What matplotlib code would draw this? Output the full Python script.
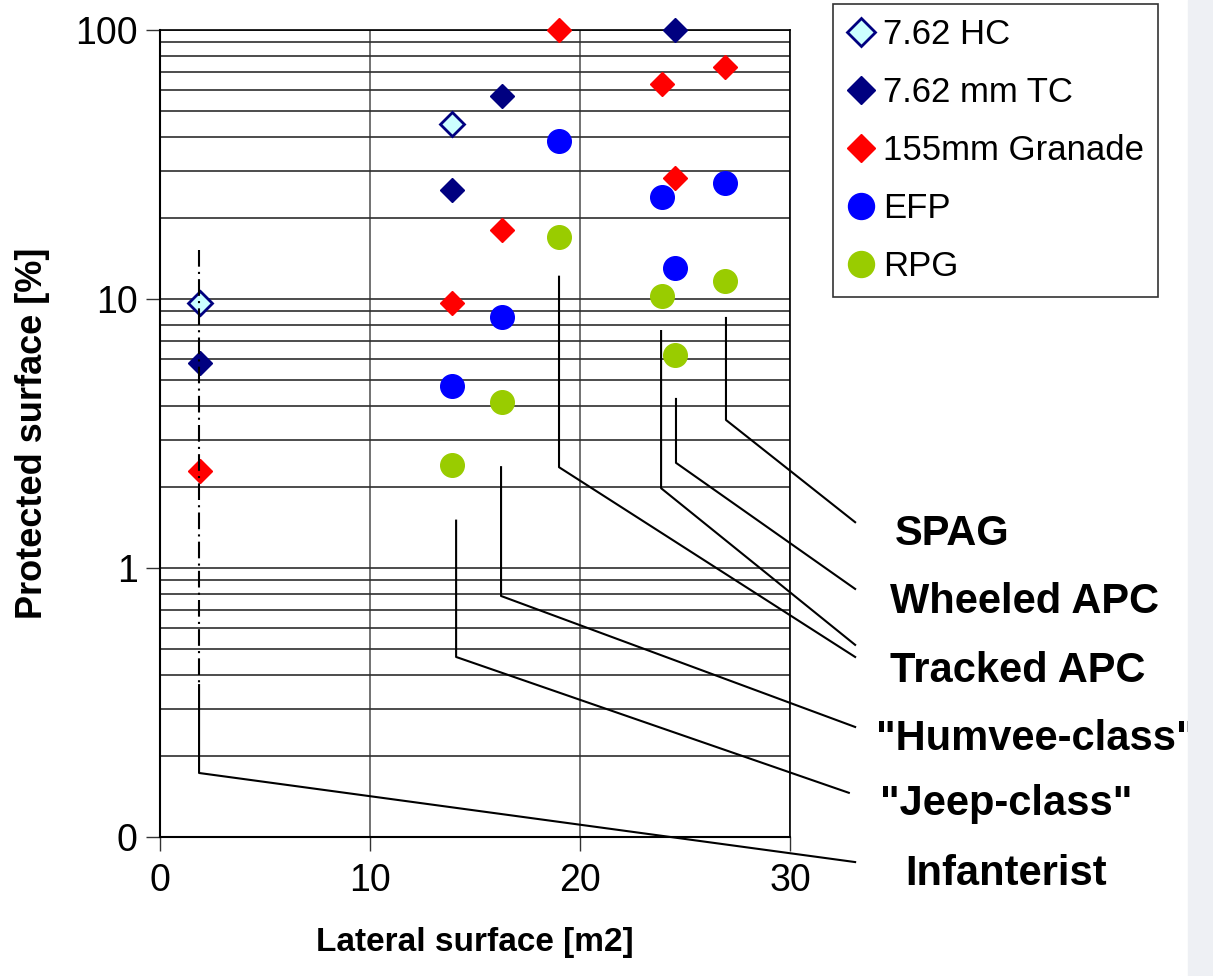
import matplotlib.pyplot as plt
from matplotlib.patches import Rectangle
from matplotlib.ticker import LogLocator, NullFormatter

# lateral surface [m2] and protected surface [%] per threat
hc_x = [1.9, 13.9]
hc_y = [9.7, 44.7]
tc_x = [1.9, 13.9, 16.3, 24.5]
tc_y = [5.8, 25.4, 57.0, 100.0]
gr_x = [1.9, 13.9, 16.3, 19.0, 23.9, 24.5, 26.9]
gr_y = [2.3, 9.7, 18.1, 100.0, 63.0, 28.2, 72.8]
efp_x = [13.9, 16.3, 19.0, 23.9, 24.5, 26.9]
efp_y = [4.75, 8.6, 38.7, 23.9, 13.0, 27.0]
rpg_x = [13.9, 16.3, 19.0, 23.9, 24.5, 26.9]
rpg_y = [2.42, 4.14, 17.0, 10.3, 6.2, 11.7]

vehicles = ['SPAG', 'Wheeled APC', 'Tracked APC', '"Humvee-class"', '"Jeep-class"', 'Infanterist']

# leader lines: x of vertical, top, knee, end x, end y (data coords)
leaders = [
    (26.95, 8.5, 3.55, 33.1, 1.48),
    (24.57, 4.25, 2.46, 33.1, 0.836),
    (19.0, 12.1, 2.37, 33.1, 0.467),
    (23.86, 7.6, 1.98, 33.1, 0.518),
    (16.24, 2.37, 0.787, 33.1, 0.2565),
    (14.1, 1.5, 0.467, 32.8, 0.146),
    (1.86, 0.367, 0.173, 33.1, 0.0807),
]
# label anchors (left x, baseline y)
label_pos = [(35.0, 1.218), (34.76, 0.681), (34.76, 0.377),
             (34.1, 0.2105), (34.3, 0.1208), (35.48, 0.0664)]

plt.rcParams['font.family'] = ['Liberation Sans', 'DejaVu Sans']

fig = plt.figure(figsize=(12.13, 9.76), dpi=100)
fig.patches.append(Rectangle((1188 / 1213, 0), 25 / 1213, 1, transform=fig.transFigure,
                             color='#eef0f4', zorder=0))
ax = fig.add_axes([0.1319, 0.1424, 0.5194, 0.8269])
ax.set_yscale('log')
ax.set_xlim(0, 30)
ax.set_ylim(0.1, 100)

# grid
ax.yaxis.set_minor_locator(LogLocator(base=10, subs=range(2, 10)))
ax.yaxis.set_minor_formatter(NullFormatter())
ax.grid(True, which='both', axis='y', color='#2e2e2e', lw=1.2)
ax.grid(True, which='major', axis='x', color='#5a5a5a', lw=1.2)
ax.set_axisbelow(True)

ms_d = 12.5
ms_o = 17
ax.plot(hc_x, hc_y, 'D', ms=ms_d, mfc='#ccffff', mec='#000080', mew=2, clip_on=False, zorder=3, label='7.62 HC')
ax.plot(tc_x, tc_y, 'D', ms=ms_d, mfc='#000080', mec='#000080', clip_on=False, zorder=3, label='7.62 mm TC')
ax.plot(gr_x, gr_y, 'D', ms=ms_d, mfc='#ff0000', mec='#ff0000', clip_on=False, zorder=3, label='155mm Granade')
ax.plot(efp_x, efp_y, 'o', ms=ms_o, mfc='#0000ff', mec='#0000ff', clip_on=False, zorder=3, label='EFP')
ax.plot(rpg_x, rpg_y, 'o', ms=ms_o, mfc='#99cc00', mec='#99cc00', clip_on=False, zorder=3, label='RPG')

# leader lines to vehicle names
ax.plot([1.86, 1.86], [15.2, 0.367], color='black', lw=1.5,
        linestyle=(0, (8, 2.5, 1, 2.5)), zorder=4, clip_on=False)
for xv, top, knee, xe, ye in leaders:
    ax.plot([xv, xv, xe], [top, knee, ye], color='black', lw=1.5, zorder=4, clip_on=False)
for name, (lx, ly) in zip(vehicles, label_pos):
    ax.text(lx, ly, name, fontsize=30, fontweight='bold', ha='left', va='baseline', clip_on=False,
            bbox=dict(facecolor='white', edgecolor='none', pad=2))

ax.set_xticks([0, 10, 20, 30])
ax.set_yticks([0.1, 1, 10, 100])
ax.set_yticklabels(['0', '1', '10', '100'])
ax.tick_params(which='major', direction='out', length=10, width=1, labelsize=27, color='#333333')
ax.tick_params(axis='x', pad=9)
ax.tick_params(axis='y', pad=6)
ax.tick_params(which='minor', length=0)

for s in ['left', 'bottom']:
    ax.spines[s].set_linewidth(1.5)
for s in ['top', 'right']:
    ax.spines[s].set_linewidth(1.2)

ax.set_xlabel('Lateral surface [m2]', fontsize=24, fontweight='bold', labelpad=20)
ax.set_ylabel('Protected surface [%]', fontsize=26, fontweight='bold', labelpad=18)

leg = fig.legend(loc='upper left', bbox_to_anchor=(833 / 1213, 1 - 4 / 976), frameon=True,
                 fancybox=False, edgecolor='#333333', framealpha=1,
                 prop={'size': 25}, handlelength=0.8, handletextpad=0.25,
                 labelspacing=0.72, borderpad=0.4, borderaxespad=0, markerscale=1.1)
leg.get_frame().set_linewidth(1.2)

plt.savefig('out.png', dpi=100)
